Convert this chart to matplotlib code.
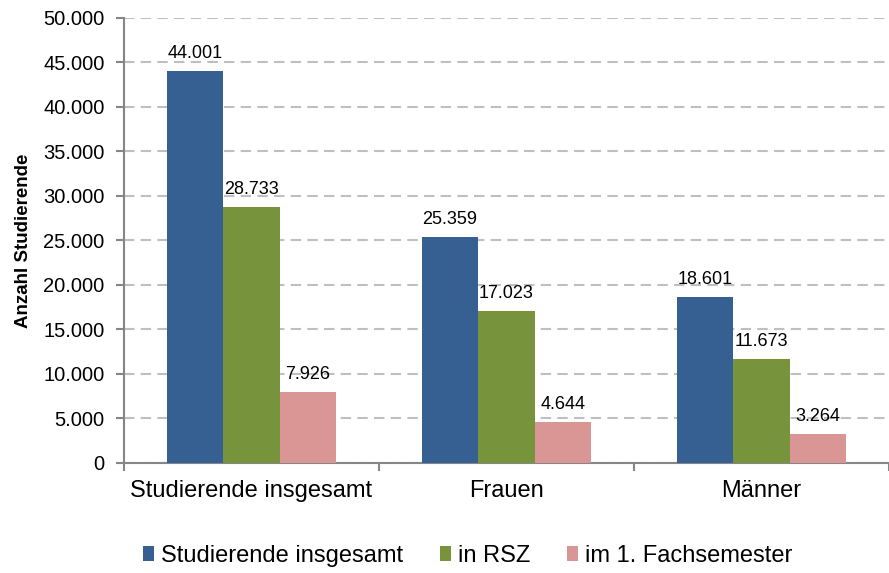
import numpy as np
import matplotlib.pyplot as plt
from matplotlib.ticker import FuncFormatter, FixedLocator

plt.rcParams['font.family'] = ['Liberation Sans', 'DejaVu Sans']

categories = ['Studierende insgesamt', 'Frauen', 'Männer']
series_names = ['Studierende insgesamt', 'in RSZ', 'im 1. Fachsemester']
insgesamt = [44001, 25359, 18601]
rsz = [28733, 17023, 11673]
erstsemester = [7926, 4644, 3264]
colors = ['#366092', '#77933C', '#D99694']


def de_fmt(v):
    return f'{int(v):,}'.replace(',', '.')


fig = plt.figure(figsize=(8.89, 5.73), dpi=100)
ax = fig.add_axes([0.1395, 0.192, 0.8605, 0.7766])

x = np.arange(len(categories))
w = 0.222
for i, (vals, name) in enumerate(zip([insgesamt, rsz, erstsemester], series_names)):
    pos = x + (i - 1) * w
    ax.bar(pos, vals, width=w, color=colors[i], label=name, zorder=3)
    for p, v in zip(pos, vals):
        ax.annotate(de_fmt(v), (p, v), xytext=(0, 6.5), textcoords='offset points',
                    ha='center', va='bottom', fontsize=13, zorder=4)

ax.set_xlim(-0.5, 2.5)
ax.set_ylim(0, 50000)
ax.set_yticks(np.arange(0, 50001, 5000))
ax.yaxis.set_major_formatter(FuncFormatter(lambda v, p: de_fmt(v)))
ax.grid(axis='y', color='#BFBFBF', linestyle=(0, (5, 3)), linewidth=1.5, zorder=0)

ax.set_xticks(x)
ax.set_xticklabels(categories, fontsize=17)
ax.tick_params(axis='x', which='major', length=0, pad=12)
ax.xaxis.set_minor_locator(FixedLocator([-0.5, 0.5, 1.5, 2.5]))
ax.tick_params(axis='x', which='minor', length=6, width=1.5, color='#868686')
ax.tick_params(axis='y', length=6, width=1.5, color='#868686', labelsize=14.5, pad=8)

for s in ['top', 'right']:
    ax.spines[s].set_visible(False)
for s in ['left', 'bottom']:
    ax.spines[s].set_color('#868686')
    ax.spines[s].set_linewidth(1.5)

ax.set_ylabel('Anzahl Studierende', fontsize=13.5, fontweight='bold', labelpad=8)

fig.legend(*ax.get_legend_handles_labels(), loc='center', bbox_to_anchor=(0.526, 0.03),
           ncol=3, frameon=False, fontsize=17, handlelength=0.47, handleheight=0.55,
           handletextpad=0.3, columnspacing=1.55, borderaxespad=0, borderpad=0)

fig.savefig('out.png', dpi=100)
